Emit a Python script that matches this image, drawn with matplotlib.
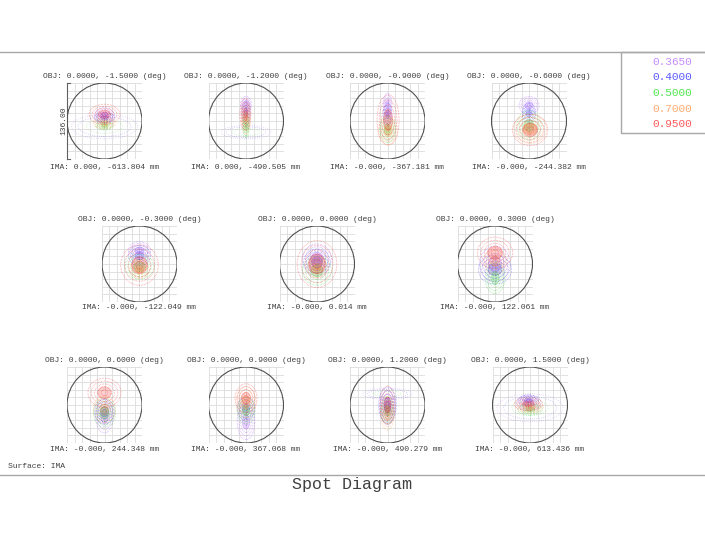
"""
Spot diagram (Zemax style) rebuilt with matplotlib.
11 fields, 5 wavelengths, box = 136 um full scale.
"""

import matplotlib
matplotlib.use("Agg")
import matplotlib.pyplot as plt
from matplotlib.patches import Ellipse, Rectangle
from matplotlib.lines import Line2D


# ============================== Data

FIELDS = [-1.5, -1.2, -0.9, -0.6, -0.3, 0.0, 0.3, 0.6, 0.9, 1.2, 1.5]
IMA_X = ["0.000", "0.000", "-0.000", "-0.000", "-0.000", "-0.000",
         "-0.000", "-0.000", "-0.000", "-0.000", "-0.000"]
IMA_Y = ["-613.804", "-490.505", "-367.181", "-244.382", "-122.049", "0.014",
         "122.061", "244.348", "367.068", "490.279", "613.436"]

WAVELENGTHS = ["0.3650", "0.4000", "0.5000", "0.7000", "0.9500"]
SCALE_UM = 136.00

# spot footprint per field: (cx, cy, rx, ry) in um
SPOT_365 = [(0, 10, 18, 14), (0, 30, 10, 14), (0, 30, 8, 20), (0, 28, 18, 16),
            (0, 24, 20, 16), (0, 10, 26, 26), (0, 0, 28, 32),
            (0, -20, 16, 30), (0, -30, 16, 32), (0, -5, 14, 30), (-2, 4, 22, 14)]
SPOT_400 = [(0, 6, 18, 10), (0, 15, 8, 22), (0, 12, 8, 20), (0, 14, 12, 18),
            (0, 15, 20, 18), (0, 3, 24, 24), (0, -10, 30, 26),
            (0, -12, 18, 22), (0, -6, 16, 20), (0, 0, 16, 32), (-3, 8, 18, 10)]
SPOT_500 = [(0, -8, 16, 8), (0, -8, 6, 22), (0, -15, 14, 24), (0, -8, 22, 26),
            (0, -5, 26, 22), (0, -12, 26, 26), (0, -25, 18, 28),
            (0, -14, 20, 26), (0, -10, 16, 24), (0, -10, 12, 24), (0, -8, 22, 10)]
SPOT_700 = [(0, -4, 20, 10), (0, 5, 8, 28), (1, -18, 18, 24), (2, -14, 30, 26),
            (0, -10, 18, 16), (0, -6, 18, 18), (0, 5, 20, 24),
            (0, -8, 20, 24), (0, 5, 18, 28), (0, -15, 12, 30), (0, -4, 24, 10)]
SPOT_950 = [(0, 12, 28, 18), (-1, 12, 10, 28), (1, 2, 20, 45), (2, -16, 32, 28),
            (0, -2, 34, 36), (0, 0, 36, 42), (0, 20, 32, 28),
            (0, 22, 30, 26), (0, 12, 20, 26), (0, 0, 14, 34), (-3, 2, 26, 12)]
SPOTS = [SPOT_365, SPOT_400, SPOT_500, SPOT_700, SPOT_950]

# faint wide wings of the off-axis fields
FLARE = [(0, -10, 60, 22), (0, -20, 45, 12), None, None, None, None, None,
         None, None, (0, 20, 45, 10), (0, -5, 60, 25)]


# ============================== Layout (pixels, top-left origin)

W, H = 705, 545
BOX_W, BOX_H = 75, 76
PANEL_CX = [104.5, 246, 387.5, 529, 139.5, 317, 495, 104.5, 246, 387.5, 530]
PANEL_TOP = [83] * 4 + [226] * 3 + [367] * 4
OBJ_Y = {83: 77, 226: 219, 367: 361}
IMA_TY = {83: 167, 226: 308, 367: 450}

SPOT_COLORS = ["#a040ff", "#3030ff", "#20d020", "#ff9030", "#ff2020"]
LEGEND_COLORS = ["#c58cff", "#5a5aff", "#4fe84f", "#ffaa70", "#ff5a5a"]
TEXT_COLOR = "#404040"
LINE_COLOR = "#a8a8a8"
MONO = "Liberation Mono"

RING_FRACS = [0.2, 0.4, 0.6, 0.8, 1.0]


def fx(x):
    return x / W


def fy(y):
    return 1 - y / H


def draw_spot(ax, spot, color):
    cx, cy, rx, ry = spot
    ax.add_patch(Ellipse((cx, cy), 0.9 * rx, 0.9 * ry, facecolor=color,
                         edgecolor="none", alpha=0.22))
    for f in RING_FRACS:
        ax.add_patch(Ellipse((cx, cy), 2 * rx * f, 2 * ry * f, fill=False,
                             ls=(0, (0.5, 1.3)), lw=0.6, ec=color, alpha=0.7))


def draw_panel(fig, i):
    half = SCALE_UM / 2
    cx, top = PANEL_CX[i], PANEL_TOP[i]
    ax = fig.add_axes([fx(cx - BOX_W / 2), fy(top + BOX_H), BOX_W / W, BOX_H / H])
    ax.set_xlim(-half, half)
    ax.set_ylim(-half, half)
    ax.axis("off")

    # grille 10x10
    for k in range(11):
        v = -half + k * SCALE_UM / 10
        ax.plot([v, v], [-half, half], color="#dcdcdc", lw=0.6, zorder=0)
        ax.plot([-half, half], [v, v], color="#dcdcdc", lw=0.6, zorder=0)

    ax.add_patch(Ellipse((0, 0), SCALE_UM, SCALE_UM, fill=False,
                         ec="#505050", lw=0.8, zorder=5))

    if FLARE[i] is not None:
        fcx, fcy, frx, fry = FLARE[i]
        for f, c in [(0.55, SPOT_COLORS[2]), (0.8, SPOT_COLORS[1]), (1.0, SPOT_COLORS[0])]:
            ax.add_patch(Ellipse((fcx, fcy), 2 * frx * f, 2 * fry * f, fill=False,
                                 ls=(0, (0.5, 2.2)), lw=0.6, ec=c, alpha=0.55))

    for spots, color in zip(SPOTS, SPOT_COLORS):
        draw_spot(ax, spots[i], color)

    f = FIELDS[i]
    fig.text(fx(cx), fy(OBJ_Y[top]), f"OBJ: 0.0000, {f:.4f} (deg)",
             ha="center", va="center", family=MONO, fontsize=5.8, color=TEXT_COLOR)
    fig.text(fx(cx), fy(IMA_TY[top]), f"IMA: {IMA_X[i]}, {IMA_Y[i]} mm",
             ha="center", va="center", family=MONO, fontsize=5.8, color=TEXT_COLOR)
    return ax


def main():
    fig = plt.figure(figsize=(W / 100, H / 100), dpi=100)

    axes = [draw_panel(fig, i) for i in range(len(FIELDS))]

    # echelle sur le premier panneau
    ax0 = axes[0]
    half = SCALE_UM / 2
    ax0.plot([-half, -half], [-half, half], color="#606060", lw=0.8, clip_on=False)
    for yv in (-half, half):
        ax0.plot([-half, -half + 6], [yv, yv], color="#606060", lw=0.8, clip_on=False)
    ax0.text(-half - 6.5, 0, f"{SCALE_UM:.2f}", rotation=90, ha="center", va="center",
             family=MONO, fontsize=5.8, color=TEXT_COLOR, clip_on=False)

    # cadre
    fig.add_artist(Line2D([0, 1], [fy(52), fy(52)], color=LINE_COLOR, lw=1))
    fig.add_artist(Line2D([0, 1], [fy(475), fy(475)], color=LINE_COLOR, lw=1))
    fig.add_artist(Rectangle((fx(621), fy(133)), 1, fy(52) - fy(133),
                             transform=fig.transFigure, fill=False,
                             ec=LINE_COLOR, lw=1))

    for k, (wl, c) in enumerate(zip(WAVELENGTHS, LEGEND_COLORS)):
        fig.text(fx(692), fy(62 + k * 15.5), wl, ha="right", va="center",
                 family=MONO, fontsize=8, color=c)

    fig.text(fx(8), fy(467), "Surface: IMA", ha="left", va="center",
             family=MONO, fontsize=5.8, color=TEXT_COLOR)
    fig.text(fx(352), fy(485), "Spot Diagram", ha="center", va="center",
             family=MONO, fontsize=12, color=TEXT_COLOR)

    fig.savefig("out.png", dpi=100)
    plt.close(fig)


if __name__ == "__main__":
    main()
